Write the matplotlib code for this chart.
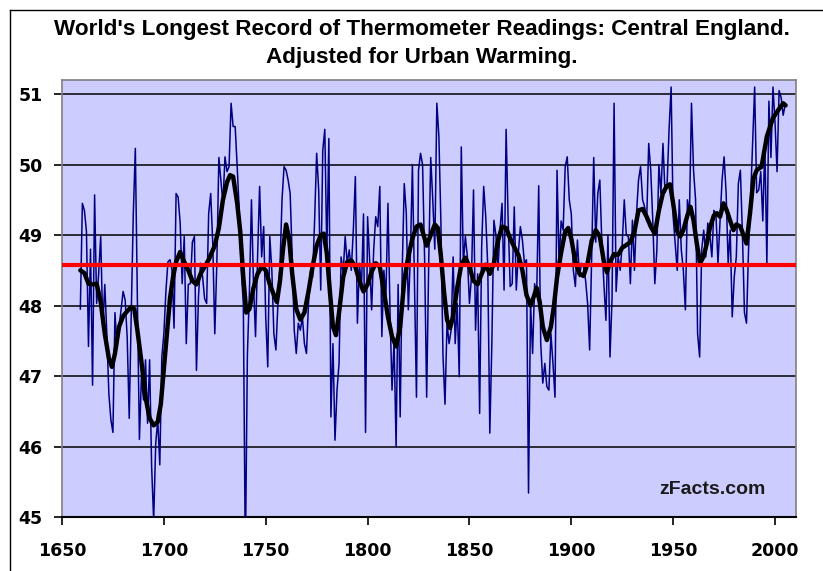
import matplotlib
matplotlib.use("Agg")
import matplotlib.pyplot as plt
from matplotlib.lines import Line2D

plt.rcParams['font.family'] = ['Liberation Sans', 'DejaVu Sans']

title_line1 = "World's Longest Record of Thermometer Readings: Central England."
title_line2 = "Adjusted for Urban Warming."
watermark = "zFacts.com"

first_year = 1659
# Annual mean temperature, deg F (1659 ... 2005)
annual_f = [
    47.95,
    49.45, 49.35, 49.05, 47.42, 48.80, 46.87, 49.57, 48.03, 48.46, 48.98,   # 1660s
    47.70, 48.30, 47.60, 46.75, 46.38, 46.20, 47.90, 47.40, 47.70, 47.94,   # 1670s
    48.20, 48.08, 47.55, 46.40, 47.90, 49.30, 50.23, 48.08, 46.10, 47.00,   # 1680s
    46.66, 47.23, 46.33, 47.23, 45.71, 44.95, 46.04, 46.38, 45.74, 47.27,   # 1690s
    47.60, 48.20, 48.62, 48.65, 48.50, 47.68, 49.59, 49.54, 49.17, 48.31,   # 1700s
    48.98, 47.46, 48.30, 48.31, 48.90, 48.98, 47.08, 48.13, 48.60, 48.41,   # 1710s
    48.10, 48.03, 49.31, 49.59, 48.88, 47.60, 48.60, 50.10, 49.78, 49.45,   # 1720s
    50.11, 49.90, 49.97, 50.87, 50.54, 50.54, 49.97, 49.35, 48.50, 48.03,   # 1730s
    44.40, 47.30, 48.20, 49.50, 48.31, 47.56, 48.69, 49.69, 48.69, 49.12,   # 1740s
    47.84, 47.13, 48.98, 48.50, 47.60, 47.37, 48.03, 48.55, 49.50, 49.97,   # 1750s
    49.92, 49.78, 49.59, 48.69, 47.65, 47.32, 47.75, 47.65, 47.84, 47.46,   # 1760s
    47.32, 48.03, 48.50, 48.40, 49.21, 50.16, 49.64, 48.22, 50.20, 50.50,   # 1770s
    48.74, 50.37, 46.42, 47.46, 46.09, 46.80, 47.18, 48.69, 48.46, 48.98,   # 1780s
    48.60, 48.79, 48.50, 49.07, 49.83, 47.75, 48.60, 48.25, 49.30, 46.20,   # 1790s
    49.26, 48.65, 47.94, 48.79, 49.26, 49.12, 49.69, 47.56, 48.50, 48.13,   # 1800s
    49.45, 47.94, 46.80, 47.50, 46.00, 48.30, 46.42, 48.50, 49.73, 49.31,   # 1810s
    47.94, 48.69, 50.00, 48.31, 46.70, 49.92, 50.16, 50.00, 48.65, 46.70,   # 1820s
    48.60, 50.10, 49.50, 48.80, 50.87, 50.40, 49.17, 47.30, 46.60, 47.75,   # 1830s
    47.46, 47.65, 48.69, 47.46, 48.03, 46.99, 50.25, 48.60, 48.98, 48.69,   # 1840s
    48.03, 48.41, 49.64, 47.65, 48.45, 46.47, 48.83, 49.69, 49.26, 48.55,   # 1850s
    46.19, 47.46, 49.21, 49.00, 48.50, 49.07, 49.45, 48.22, 50.50, 49.21,   # 1860s
    48.27, 48.31, 49.40, 48.22, 48.74, 49.12, 48.93, 48.60, 48.65, 45.34,   # 1870s
    48.03, 47.32, 48.31, 48.13, 49.70, 47.46, 46.90, 47.18, 46.85, 46.80,   # 1880s
    47.60, 47.18, 46.70, 49.92, 48.60, 49.20, 49.07, 49.97, 50.11, 49.50,   # 1890s
    49.30, 48.50, 48.27, 48.93, 48.41, 48.60, 48.55, 48.36, 48.03, 47.37,   # 1900s
    48.69, 50.10, 48.90, 49.59, 49.78, 48.88, 48.31, 47.79, 49.00, 47.27,   # 1910s
    48.10, 50.87, 48.20, 48.69, 48.50, 48.88, 49.50, 49.00, 48.98, 48.31,   # 1920s
    49.21, 48.50, 49.30, 49.78, 49.97, 49.50, 49.40, 49.20, 50.30, 49.92,   # 1930s
    49.20, 48.31, 48.79, 50.00, 49.59, 50.30, 49.60, 49.70, 50.50, 51.10,   # 1940s
    49.26, 48.88, 48.50, 49.50, 48.79, 48.50, 47.94, 49.50, 49.30, 50.87,   # 1950s
    49.92, 49.50, 47.60, 47.27, 48.79, 49.07, 48.69, 49.17, 49.00, 48.69,   # 1960s
    49.35, 49.30, 48.60, 49.20, 49.78, 50.11, 49.60, 48.60, 49.07, 47.84,   # 1970s
    48.41, 48.69, 49.73, 49.92, 49.02, 47.90, 47.75, 48.79, 49.50, 50.30,   # 1980s
    51.10, 49.60, 49.64, 49.90, 49.20, 50.30, 48.60, 50.90, 50.10, 51.10,   # 1990s
    50.60, 49.90, 51.05, 50.95, 50.70, 50.85,                               # 2000s
]
years = list(range(first_year, first_year + len(annual_f)))

# Smoothed (multi-year average) curve, deg F
smooth_years = [
    1659, 1661, 1663, 1665, 1667, 1669, 1671, 1673, 1674.5, 1676, 1678, 1680,
    1682, 1684, 1685.5, 1687, 1689, 1691, 1693, 1695, 1697, 1698.5, 1700,
    1701.5, 1703, 1704.5, 1706, 1708, 1710, 1712, 1714, 1716, 1718, 1720,
    1722, 1723.5, 1725, 1727, 1729, 1731, 1732.5, 1734, 1736, 1737.5, 1739,
    1740.5, 1742, 1744, 1746, 1748, 1750, 1752, 1754, 1755.5, 1757, 1758.5,
    1760, 1761.5, 1763, 1765, 1767, 1769, 1771, 1773, 1775, 1777, 1778.5,
    1780, 1781.5, 1783, 1784.5, 1786, 1788, 1790, 1792, 1794, 1796, 1798,
    1800, 1802, 1804, 1806, 1808, 1810, 1812, 1814, 1816, 1818, 1820, 1822,
    1824, 1826, 1827.5, 1829, 1831, 1833, 1834.5, 1836, 1837.5, 1839, 1840.5,
    1842, 1844, 1846, 1848, 1850, 1852, 1854, 1856, 1858, 1860, 1862, 1864,
    1866, 1868, 1870, 1872, 1874, 1876, 1878, 1880, 1881.5, 1883, 1884.5,
    1886, 1888, 1890, 1891.5, 1893, 1895, 1897, 1898.5, 1900, 1902, 1904,
    1906, 1908, 1910, 1912, 1914, 1916, 1917.5, 1919, 1921, 1923, 1925, 1927,
    1929, 1931, 1933, 1935, 1937, 1939, 1941, 1943, 1945, 1947, 1948.5, 1950,
    1952, 1953.5, 1955, 1957, 1958.5, 1960, 1961.6, 1963.2, 1965, 1966.5,
    1968, 1970, 1971.5, 1973, 1974.7, 1976.3, 1978, 1979.6, 1981, 1983,
    1984.5, 1986, 1987.7, 1989.4, 1991, 1993.4, 1996, 1999, 2001.5, 2004,
    2005.2,
]
smooth_f = [
    48.50, 48.46, 48.31, 48.30, 48.31, 48.05, 47.60, 47.25, 47.13, 47.32, 47.70, 47.85,
    47.92, 47.98, 47.95, 47.65, 47.20, 46.70, 46.40, 46.30, 46.35, 46.60, 47.10,
    47.60, 48.10, 48.40, 48.62, 48.76, 48.62, 48.50, 48.35, 48.30, 48.45, 48.55,
    48.65, 48.75, 48.85, 49.10, 49.50, 49.75, 49.85, 49.83, 49.45, 49.05, 48.40,
    47.90, 47.95, 48.25, 48.45, 48.55, 48.50, 48.30, 48.15, 48.05, 48.35, 48.80,
    49.15, 48.95, 48.45, 47.95, 47.80, 47.90, 48.20, 48.55, 48.85, 49.00, 49.02,
    48.74, 48.20, 47.70, 47.58, 47.90, 48.40, 48.62, 48.64, 48.55, 48.35, 48.20,
    48.30, 48.48, 48.60, 48.55, 48.20, 47.84, 47.56, 47.42, 47.70, 48.35, 48.70, 48.95,
    49.12, 49.15, 49.00, 48.85, 49.00, 49.15, 49.10, 48.70, 48.20, 47.80, 47.68,
    47.85, 48.25, 48.58, 48.68, 48.55, 48.35, 48.30, 48.45, 48.58, 48.45, 48.60, 48.92,
    49.12, 49.10, 48.95, 48.83, 48.72, 48.50, 48.15, 48.00, 48.12, 48.25, 48.05,
    47.70, 47.51, 47.70, 48.00, 48.40, 48.75, 49.05, 49.10, 48.95, 48.62, 48.45,
    48.42, 48.60, 48.92, 49.07, 48.98, 48.62, 48.47, 48.62, 48.73, 48.72, 48.82, 48.86,
    48.90, 49.05, 49.35, 49.37, 49.26, 49.12, 49.02, 49.35, 49.60, 49.70, 49.72, 49.45,
    49.05, 48.98, 49.07, 49.28, 49.40, 49.21, 48.88, 48.60, 48.70, 48.88,
    49.10, 49.28, 49.31, 49.26, 49.45, 49.35, 49.20, 49.07, 49.15, 49.12,
    49.00, 48.88, 49.30, 49.80, 49.92, 49.97, 50.40, 50.66, 50.77, 50.87,
    50.84,
]

long_term_mean = 48.57

x_ticks = [1650, 1700, 1750, 1800, 1850, 1900, 1950, 2000]
y_ticks = [45, 46, 47, 48, 49, 50, 51]

W, H = 823, 571
fig = plt.figure(figsize=(W / 100, H / 100), dpi=100)
fig.patch.set_facecolor('white')

left_px, right_px, top_px, bottom_px = 62, 796, 80, 517
ax = fig.add_axes([left_px / W, 1 - bottom_px / H,
                   (right_px - left_px) / W, (bottom_px - top_px) / H])
ax.set_facecolor('#CCCCFF')
ax.set_xlim(1650, 2010.3)
ax.set_ylim(45, 51.2)

ax.set_xticks(x_ticks)
ax.set_yticks(y_ticks)
ax.yaxis.grid(True, color='black', linewidth=1.1)
ax.xaxis.grid(False)
ax.set_axisbelow(True)

ax.plot(years, annual_f, color='#000080', linewidth=1.1, zorder=3)
ax.plot(smooth_years, smooth_f, color='black', linewidth=3.2, zorder=4,
        solid_joinstyle='round', solid_capstyle='round')
ax.axhline(long_term_mean, color='#FF0000', linewidth=3.0, zorder=5)

for side in ('top', 'right', 'left'):
    ax.spines[side].set_color('#808080')
    ax.spines[side].set_linewidth(1.2)
ax.spines['bottom'].set_color('black')
ax.spines['bottom'].set_linewidth(1.5)

ax.tick_params(axis='both', direction='out', length=6, width=1.2, color='black')
ax.tick_params(axis='x', pad=12)
ax.tick_params(axis='y', pad=8)
for lab in ax.get_xticklabels() + ax.get_yticklabels():
    lab.set_fontfamily(['DejaVu Sans'])
    lab.set_fontweight('bold')
    lab.set_fontsize(12.5)

ax.text(712 / W, 1 - 489 / H, watermark, transform=fig.transFigure,
        ha='center', va='center', fontsize=14, fontweight='bold', color='#1a1a1a',
        zorder=6)

fig.text(422 / W, 1 - 30 / H, title_line1, ha='center', va='center',
         fontsize=16.2, fontweight='bold', color='black')
fig.text(422 / W, 1 - 58 / H, title_line2, ha='center', va='center',
         fontsize=16.2, fontweight='bold', color='black')

# thin frame around the figure (left and top edges visible)
fig.add_artist(Line2D([9.5 / W, 9.5 / W], [0, 1 - 9.5 / H],
                      transform=fig.transFigure, color='black', linewidth=1.0))
fig.add_artist(Line2D([9.5 / W, 1], [1 - 9.5 / H, 1 - 9.5 / H],
                      transform=fig.transFigure, color='black', linewidth=1.0))

fig.savefig('out.png', dpi=100, facecolor='white')
